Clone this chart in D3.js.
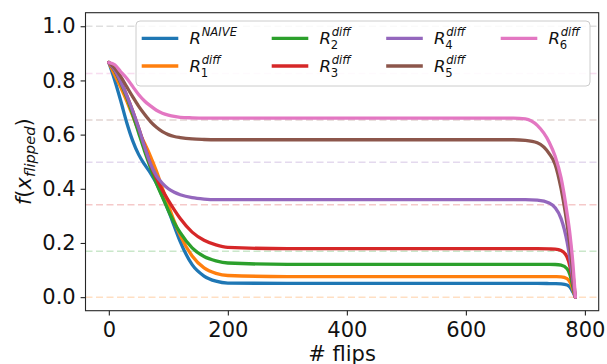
<!DOCTYPE html>
<html>
<head>
<meta charset="utf-8">
<script src="https://cdn.jsdelivr.net/npm/d3@7/dist/d3.min.js"></script>
<style>
  html, body { margin: 0; padding: 0; background: #fff; }
  svg { display: block; font-family: "DejaVu Sans", sans-serif; }
</style>
</head>
<body>
<svg id="chart" width="607" height="364"></svg>
<script>
// ---- data ----
const flips = [0,10,20,30,40,50,60,70,80,90,100,110,120,140,160,180,200,300,400,500,600,680,700,720,740,750,760,770,775,780,784];

const naive = [0.866,0.80,0.725,0.645,0.578,0.527,0.49,0.458,0.42,0.372,0.32,0.262,0.205,0.12,0.078,0.059,0.052,0.0505,0.0505,0.0505,0.0505,0.0505,0.0505,0.0505,0.0503,0.050,0.049,0.045,0.037,0.018,0.0];
const diff1 = [0.866,0.82,0.775,0.725,0.67,0.615,0.568,0.52,0.465,0.402,0.34,0.28,0.228,0.152,0.108,0.088,0.08,0.076,0.076,0.076,0.076,0.076,0.076,0.076,0.0758,0.0755,0.075,0.068,0.055,0.027,0.0];
const diff2 = [0.866,0.835,0.79,0.738,0.675,0.607,0.54,0.478,0.42,0.37,0.32,0.275,0.238,0.182,0.15,0.134,0.126,0.121,0.121,0.121,0.121,0.121,0.121,0.121,0.121,0.1205,0.118,0.105,0.082,0.037,0.0];
const diff3 = [0.866,0.838,0.795,0.745,0.688,0.625,0.557,0.49,0.44,0.395,0.357,0.322,0.29,0.24,0.21,0.193,0.184,0.179,0.179,0.179,0.179,0.179,0.179,0.179,0.178,0.177,0.172,0.148,0.112,0.052,0.0];
const diff4 = [0.866,0.838,0.795,0.745,0.688,0.625,0.556,0.492,0.448,0.42,0.40,0.387,0.378,0.367,0.362,0.36,0.36,0.36,0.36,0.36,0.36,0.36,0.36,0.358,0.348,0.33,0.29,0.205,0.14,0.06,0.0];
const diff5 = [0.866,0.845,0.814,0.777,0.740,0.705,0.675,0.648,0.627,0.611,0.60,0.593,0.589,0.584,0.582,0.581,0.581,0.581,0.581,0.581,0.581,0.581,0.579,0.570,0.530,0.49,0.40,0.27,0.19,0.085,0.0];
const diff6 = [0.866,0.858,0.832,0.808,0.778,0.748,0.724,0.706,0.69,0.679,0.672,0.667,0.664,0.662,0.661,0.661,0.661,0.661,0.661,0.661,0.661,0.661,0.658,0.634,0.572,0.52,0.44,0.31,0.23,0.12,0.0];

const seriesNames = ["naive","diff1","diff2","diff3","diff4","diff5","diff6"];
const seriesValues = [naive, diff1, diff2, diff3, diff4, diff5, diff6];
const seriesSup = ["NAIVE","diff","diff","diff","diff","diff","diff"];
const seriesSub = ["","1","2","3","4","5","6"];

// faint dashed reference levels
const refLevels = [1.0, 0.826, 0.654, 0.498, 0.341, 0.169, 0.0];
const refSeries = ["gray","diff6","diff5","diff4","diff3","diff2","diff1"];

const xTicks = [0, 200, 400, 600, 800];
const yTicks = [0.0, 0.2, 0.4, 0.6, 0.8, 1.0];
const xLabel = "# flips";

// ---- styling ----
const colors = {
  naive: "#1f77b4", diff1: "#ff7f0e", diff2: "#2ca02c", diff3: "#d62728",
  diff4: "#9467bd", diff5: "#8c564b", diff6: "#e377c2", gray: "#7f7f7f"
};

const svg = d3.select("#chart");
const L = 85.5, R = 598.7, T = 12.7, B = 310.7;

const x = d3.scaleLinear().domain([-39.2, 823.2]).range([L, R]);
const y = d3.scaleLinear().domain([-0.05, 1.05]).range([B, T]);

// reference dashed lines
svg.append("g").selectAll("line").data(refLevels).join("line")
  .attr("x1", L).attr("x2", R)
  .attr("y1", d => y(d)).attr("y2", d => y(d))
  .attr("stroke", (d, i) => colors[refSeries[i]])
  .attr("stroke-opacity", 0.25)
  .attr("stroke-width", 1.5)
  .attr("stroke-dasharray", "7,3.5");

// curves
const line = d3.line().curve(d3.curveMonotoneX);
const g = svg.append("g");
seriesValues.forEach((vals, i) => {
  const pts = flips.map((f, j) => [x(f), y(vals[j])]);
  g.append("path")
    .attr("d", line(pts))
    .attr("fill", "none")
    .attr("stroke", colors[seriesNames[i]])
    .attr("stroke-width", 3.3)
    .attr("stroke-linejoin", "round")
    .attr("stroke-linecap", "round");
});

// axes
const fontSize = 21;
const xAxis = svg.append("g").attr("transform", `translate(0,${B})`)
  .call(d3.axisBottom(x).tickValues(xTicks).tickSize(4.9).tickPadding(6.2).tickFormat(d3.format("d")));
const yAxis = svg.append("g").attr("transform", `translate(${L},0)`)
  .call(d3.axisLeft(y).tickValues(yTicks).tickSize(4.9).tickPadding(4.9).tickFormat(d3.format(".1f")));
[xAxis, yAxis].forEach(a => {
  a.select(".domain").remove();
  a.selectAll(".tick line").attr("stroke", "#222").attr("stroke-width", 1.1);
  a.selectAll(".tick text").attr("fill", "#111").style("font-size", fontSize + "px")
    .style("font-family", "DejaVu Sans");
});

// frame
svg.append("rect").attr("x", L).attr("y", T).attr("width", R - L).attr("height", B - T)
  .attr("fill", "none").attr("stroke", "#262626").attr("stroke-width", 1.1);

// x label
svg.append("text").attr("x", (L + R) / 2).attr("y", 360.5)
  .attr("text-anchor", "middle").style("font-size", fontSize + "px").attr("fill", "#111")
  .text(xLabel);

// y label: f(x_{flipped})
const yl = svg.append("text")
  .attr("transform", `translate(30.5,${(T + B) / 2}) rotate(-90)`)
  .attr("text-anchor", "middle").style("font-size", fontSize + "px").attr("fill", "#111");
yl.append("tspan").style("font-style", "italic").text("f");
yl.append("tspan").text("(");
yl.append("tspan").style("font-style", "italic").text("x");
yl.append("tspan").style("font-style", "italic").style("font-size", "14.7px").attr("dy", 4.5).text("flipped");
yl.append("tspan").attr("dy", -4.5).text(")");

// legend
const leg = svg.append("g");
leg.append("rect").attr("x", 136).attr("y", 21).attr("width", 454).attr("height", 65)
  .attr("rx", 4).attr("fill", "#fff").attr("fill-opacity", 0.85)
  .attr("stroke", "#cccccc").attr("stroke-width", 1);
const colX = [141.7, 271.7, 386.2, 500.7];
const rowY = [38.3, 66.0];
seriesNames.forEach((name, i) => {
  const c = Math.floor(i / 2), r = i % 2;
  const hx = colX[c], hy = rowY[r];
  leg.append("line").attr("x1", hx).attr("x2", hx + 36.6).attr("y1", hy).attr("y2", hy)
    .attr("stroke", colors[name]).attr("stroke-width", 3.3);
  const tx = hx + 47.8, base = hy + 5.8;
  leg.append("text").attr("x", tx).attr("y", base).style("font-size", "16.5px")
    .style("font-style", "italic").attr("fill", "#111").text("R");
  leg.append("text").attr("x", tx + 12.2).attr("y", base - 7.7).style("font-size", "11.6px")
    .style("font-style", "italic").attr("fill", "#111").text(seriesSup[i]);
  if (seriesSub[i]) {
    leg.append("text").attr("x", tx + 11.2).attr("y", base + 5).style("font-size", "11.6px")
      .attr("fill", "#111").text(seriesSub[i]);
  }
});
</script>
</body>
</html>
